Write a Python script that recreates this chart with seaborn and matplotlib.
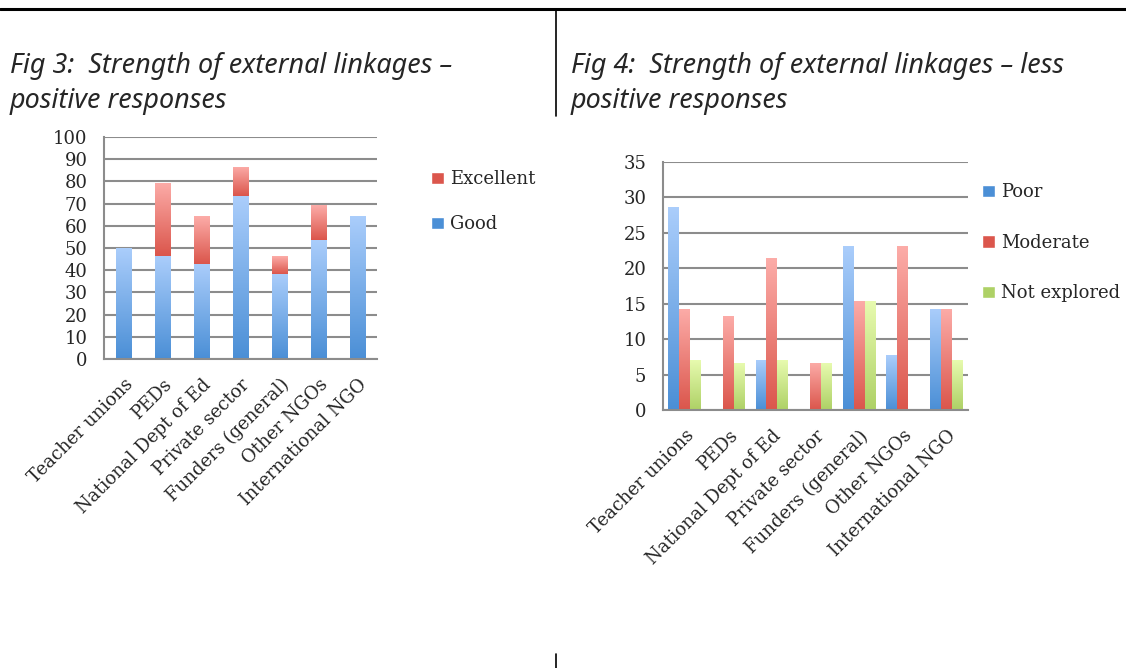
import numpy as np
import pandas as pd
import matplotlib
matplotlib.use("Agg")
import matplotlib.pyplot as plt
from matplotlib.patches import Patch
from matplotlib.colors import to_rgb
import seaborn as sns

# Data (percent of responses)
categories = ["Teacher unions", "PEDs", "National Dept of Ed", "Private sector",
              "Funders (general)", "Other NGOs", "International NGO"]
good = [50.0, 46.2, 42.9, 73.3, 38.5, 53.8, 64.3]
excellent = [0.0, 33.3, 21.4, 13.3, 7.7, 15.4, 0.0]
poor = [28.6, 0.0, 7.1, 0.0, 23.1, 7.7, 14.3]
moderate = [14.3, 13.3, 21.4, 6.7, 15.4, 23.1, 14.3]
not_explored = [7.1, 6.7, 7.1, 6.7, 15.4, 0.0, 7.1]

# gradient colours (top, bottom)
BLUE = ("#aacdfb", "#4b8fd6")
RED = ("#fcaca8", "#db564c")
GREEN = ("#e8fbb0", "#aed166")
GRID = "#8c8c8c"
FS = 13

sns.set_style("white")
plt.rcParams["font.family"] = ["DejaVu Serif"]


def shade(ax, patch, colors, y0=None):
    # fill a bar with a vertical gradient, light on top
    x, w = patch.get_x(), patch.get_width()
    y1 = patch.get_y() + patch.get_height()
    if y0 is None:
        y0 = patch.get_y()
    if y1 - y0 <= 0:
        patch.set_visible(False)
        return
    t = np.linspace(0, 1, 64)[:, None, None]
    top, bot = np.array(to_rgb(colors[0])), np.array(to_rgb(colors[1]))
    img = top * (1 - t) + bot * t
    im = ax.imshow(img, extent=[x, x + w, y0, y1], origin="upper",
                   aspect="auto", interpolation="bilinear", zorder=2)
    im.set_clip_path(patch)
    patch.set_facecolor("none")
    patch.set_edgecolor("none")


def style_axes(ax, ymax, step):
    ax.set_xlim(-0.5, len(categories) - 0.5)
    ax.set_ylim(0, ymax)
    ax.set_yticks(np.arange(0, ymax + 0.1, step))
    ax.set_axisbelow(True)
    ax.grid(axis="y", color=GRID, lw=1.5)
    for s in ["top", "right"]:
        ax.spines[s].set_visible(False)
    for s in ["left", "bottom"]:
        ax.spines[s].set_color(GRID)
        ax.spines[s].set_linewidth(1.5)
    ax.set_xticks(np.arange(-0.5, len(categories)), minor=True)
    ax.tick_params(axis="x", which="major", length=0, pad=12)
    ax.tick_params(axis="x", which="minor", length=6, width=1.5, color=GRID)
    ax.tick_params(axis="y", length=6, width=1.5, color=GRID, pad=6)
    ax.set_xticks(range(len(categories)))
    ax.set_xticklabels(categories, rotation=45, ha="right",
                       rotation_mode="anchor", fontsize=FS)
    for lab in ax.get_yticklabels():
        lab.set_fontsize(FS)
    ax.set_xlabel("")
    ax.set_ylabel("")


fig = plt.figure(figsize=(11.26, 6.68), dpi=100)

# ---- Fig 3: stacked bars ----
ax1 = fig.add_axes([0.0924, 0.4626, 0.2425, 0.3323])
df1 = pd.DataFrame({"cat": categories,
                    "total": np.add(good, excellent),
                    "good": good})
sns.barplot(data=df1, x="cat", y="total", color=RED[1], width=0.41,
            order=categories, ax=ax1)
sns.barplot(data=df1, x="cat", y="good", color=BLUE[1], width=0.41,
            order=categories, ax=ax1)
red_bars, blue_bars = ax1.containers[0], ax1.containers[1]
for rp, bp in zip(red_bars, blue_bars):
    shade(ax1, rp, RED, y0=bp.get_height())
    shade(ax1, bp, BLUE)
style_axes(ax1, 100, 10)
fig.legend(handles=[Patch(facecolor=RED[1], label="Excellent"),
                    Patch(facecolor=BLUE[1], label="Good")],
           loc="upper left", bbox_to_anchor=(0.3766, 0.756), frameon=False,
           fontsize=FS, handlelength=0.7, handleheight=0.7,
           handletextpad=0.35, labelspacing=1.5, borderaxespad=0)

# ---- Fig 4: grouped bars ----
ax2 = fig.add_axes([0.5888, 0.3862, 0.2709, 0.3713])
df2 = pd.DataFrame({"cat": categories * 3,
                    "value": poor + moderate + not_explored,
                    "rating": ["Poor"] * 7 + ["Moderate"] * 7 + ["Not explored"] * 7})
sns.barplot(data=df2, x="cat", y="value", hue="rating",
            hue_order=["Poor", "Moderate", "Not explored"], order=categories,
            palette=[BLUE[1], RED[1], GREEN[1]], width=0.75, legend=False,
            ax=ax2)
for cont, cols in zip(ax2.containers, [BLUE, RED, GREEN]):
    for p in cont:
        shade(ax2, p, cols)
style_axes(ax2, 35, 5)
fig.legend(handles=[Patch(facecolor=BLUE[1], label="Poor"),
                    Patch(facecolor=RED[1], label="Moderate"),
                    Patch(facecolor=GREEN[1], label="Not explored")],
           loc="upper left", bbox_to_anchor=(0.866, 0.7365), frameon=False,
           fontsize=FS, handlelength=0.7, handleheight=0.7,
           handletextpad=0.35, labelspacing=1.8, borderaxespad=0)

# ---- titles and page rules ----
tfont = dict(family="Noto Sans", style="italic", fontsize=19.4, va="baseline")
fig.text(10 / 1126, 1 - 73 / 668, "Fig 3:  Strength of external linkages \u2013", **tfont)
fig.text(10 / 1126, 1 - 108 / 668, "positive responses", **tfont)
fig.text(571 / 1126, 1 - 73 / 668, "Fig 4:  Strength of external linkages \u2013 less", **tfont)
fig.text(571 / 1126, 1 - 108 / 668, "positive responses", **tfont)

fig.add_artist(plt.Line2D([0, 1], [1 - 9 / 668] * 2, color="black", lw=2.2))
fig.add_artist(plt.Line2D([556 / 1126] * 2, [1 - 10 / 668, 1 - 116 / 668],
                          color="black", lw=1.2))
fig.add_artist(plt.Line2D([556 / 1126] * 2, [1 - 654 / 668, 0],
                          color="black", lw=1.2))

fig.savefig("out.png", dpi=100)
